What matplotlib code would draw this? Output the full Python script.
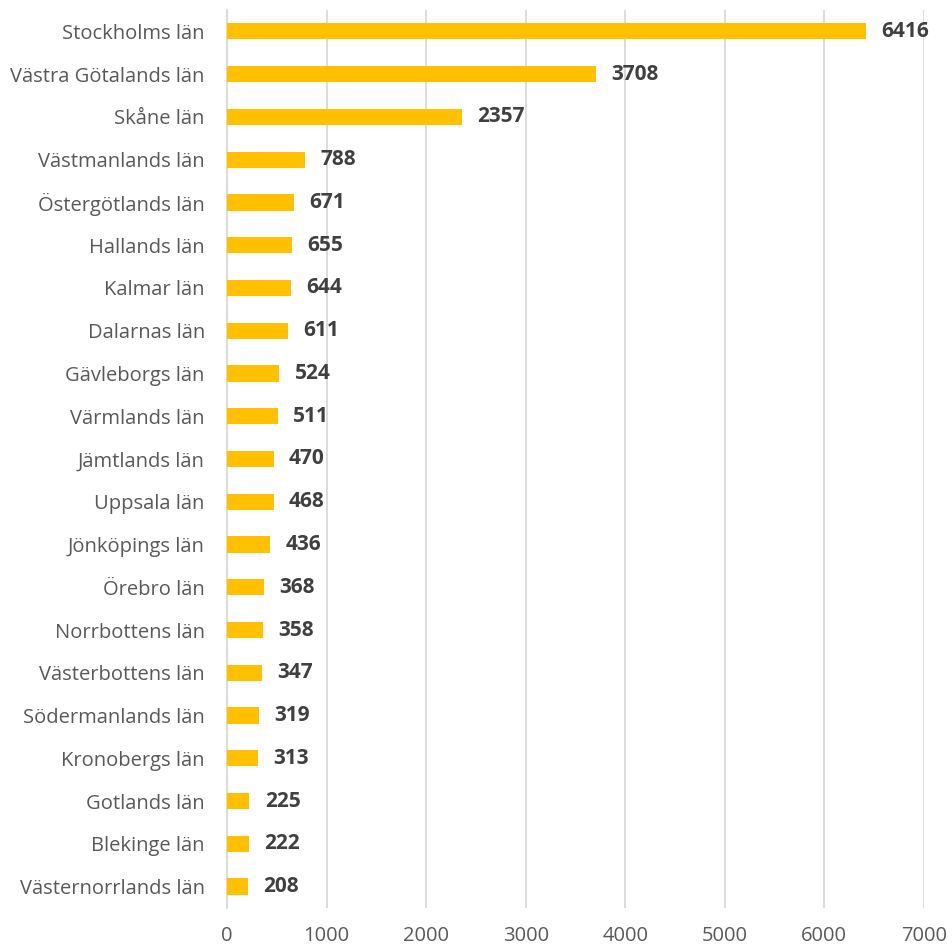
import numpy as np
import matplotlib
import matplotlib.pyplot as plt

matplotlib.rcParams['font.family'] = ['Open Sans', 'DejaVu Sans']

lan = ["Stockholms län", "Västra Götalands län", "Skåne län", "Västmanlands län",
       "Östergötlands län", "Hallands län", "Kalmar län", "Dalarnas län",
       "Gävleborgs län", "Värmlands län", "Jämtlands län", "Uppsala län",
       "Jönköpings län", "Örebro län", "Norrbottens län", "Västerbottens län",
       "Södermanlands län", "Kronobergs län", "Gotlands län", "Blekinge län",
       "Västernorrlands län"]
antal = [6416, 3708, 2357, 788, 671, 655, 644, 611, 524, 511, 470, 468,
         436, 368, 358, 347, 319, 313, 225, 222, 208]
xticks = [0, 1000, 2000, 3000, 4000, 5000, 6000, 7000]

fig = plt.figure(figsize=(9.52, 9.49), dpi=100)
ax = fig.add_axes([0.2385, 0.0432, 0.732, 0.9463])

y = np.arange(len(lan))
ax.barh(y, antal, height=0.38, color="#FFC000", zorder=3)
for yi, v in zip(y, antal):
    ax.annotate(str(v), (v, yi), xytext=(11, 0), textcoords="offset points",
                va="center", ha="left", fontsize=15, fontweight="bold",
                color="#404040", zorder=4)

ax.set_ylim(len(lan) - 0.5, -0.5)
ax.set_xlim(0, 7000)
ax.set_xticks(xticks)
ax.set_yticks(y)
ax.set_yticklabels(lan)
ax.tick_params(axis="both", length=0, colors="#595959", labelsize=14.5)
ax.tick_params(axis="y", pad=16)
ax.tick_params(axis="x", pad=13)
ax.xaxis.grid(True, color="#D9D9D9", linewidth=1.3, zorder=0)
for s in ["top", "right", "bottom"]:
    ax.spines[s].set_visible(False)
ax.spines["left"].set_color("#D9D9D9")
ax.spines["left"].set_linewidth(1.3)

plt.savefig("out.png", dpi=100)
